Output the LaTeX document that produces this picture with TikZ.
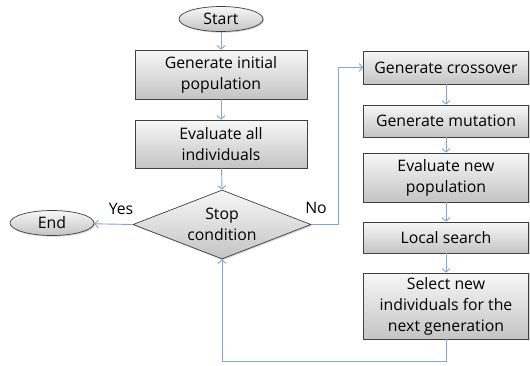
\documentclass[tikz,border=0pt]{standalone}
\usepackage{fontspec}
\setmainfont{Open Sans}
\usetikzlibrary{shapes.geometric,arrows.meta,shadows}
\definecolor{linkblue}{HTML}{7FA6D6}
\definecolor{boxtop}{HTML}{F7F7F7}
\definecolor{boxbot}{HTML}{C4C4C4}
\begin{document}
\begin{tikzpicture}[x=1pt,y=-1pt,
  txt/.style={font=\fontsize{15.8}{21}\selectfont},
  base/.style={draw=black!75, line width=0.7pt, top color=boxtop, bottom color=boxbot,
     drop shadow={shadow xshift=1.2pt, shadow yshift=-1.2pt, opacity=0.35},
     txt, align=center, inner sep=0pt},
  procbox/.style={base, rectangle, minimum height=#1},
  procbox/.default=33,
  term/.style={base, ellipse, minimum width=84, minimum height=25},
  link/.style={draw=linkblue, line width=0.9pt, -{Straight Barb[length=3.5pt,width=8pt]}}
]
\useasboundingbox (0,0) rectangle (530,365);
\node[term] (start) at (221,19) {Start};
\node[procbox=49, minimum width=172] (init) at (221,74.5) {Generate initial\\population};
\node[procbox=48, minimum width=172] (evall) at (221,144) {Evaluate all\\individuals};
\node[base, diamond, minimum width=178, minimum height=69, inner sep=0pt] (stop) at (222,224.5) {};
\node[txt, align=center] (stoptext) at (222,224.5) {Stop\\condition};
\node[term] (end) at (52,223) {End};
\node[txt] (yes) at (121,209) {Yes};
\node[txt] (no) at (316,208) {No};

\node[procbox=33, minimum width=165] (cross) at (446,67.5) {Generate crossover};
\node[procbox=32, minimum width=165] (mut) at (446,121) {Generate mutation};
\node[procbox=49, minimum width=165] (evnew) at (446,177.5) {Evaluate new\\population};
\node[procbox=31, minimum width=165] (local) at (446,237.5) {Local search};
\node[procbox=66, minimum width=165] (select) at (446,306) {Select new\\individuals for the\\next generation};

\coordinate (nocorner) at (338,0);
\coordinate (loopy) at (0,361);

\draw[link] (start) -- (init);
\draw[link] (init) -- (evall);
\draw[link] (evall) -- (stop.north);
\draw[link] (stop.west) -- (end);
\draw[link] (stop.east) -- (stop.east -| nocorner) |- (cross.west);
\draw[link] (cross) -- (mut);
\draw[link] (mut) -- (evnew);
\draw[link] (evnew) -- (local);
\draw[link] (local) -- (select);
\draw[link] (select.south) -- (select.south |- loopy) -| (stop.south);
\end{tikzpicture}
\end{document}
